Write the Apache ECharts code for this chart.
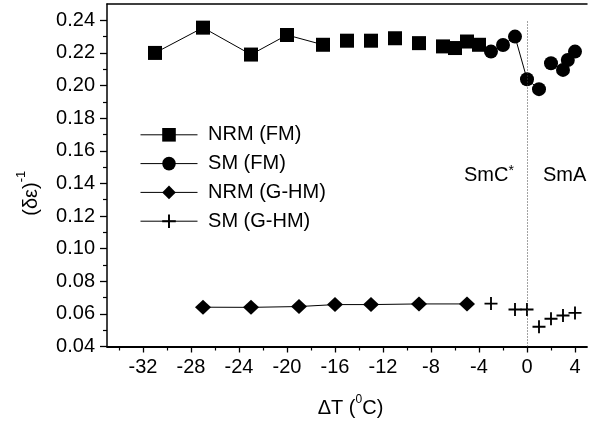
<!DOCTYPE html>
<html>
<head>
<meta charset="utf-8">
<script src="https://cdn.jsdelivr.net/npm/echarts@6/dist/echarts.min.js"></script>
<style>
  html, body { margin: 0; padding: 0; background: #fff; }
  #chart { width: 593px; height: 424px; }
</style>
</head>
<body>
<div id="chart"></div>
<script>
const FONT = '"Liberation Sans", Arial, Helvetica, sans-serif';

// NRM (FM): squares joined by a line far from the transition, loose ones closer to it
const nrmFmJoinedT = [-31, -27, -23, -20, -17];
const nrmFmJoined  = [0.220, 0.2355, 0.219, 0.231, 0.225];
const nrmFmLooseT  = [-15, -13, -11, -9, -7, -6, -5, -4];
const nrmFmLoose   = [0.2275, 0.2275, 0.229, 0.226, 0.224, 0.223, 0.227, 0.225];

// SM (FM): circles through the SmC*-SmA transition
const smFmLowT  = [-3, -2, -1, 0, 1];
const smFmLow   = [0.2208, 0.2249, 0.230, 0.2039, 0.1978];
const smFmHighT = [2, 3, 3.4, 4];
const smFmHigh  = [0.2137, 0.2096, 0.2157, 0.2208];

// NRM (G-HM): diamonds
const nrmGhmT = [-27, -23, -19, -16, -13, -9, -5];
const nrmGhm  = [0.0641, 0.0640, 0.0645, 0.0657, 0.0657, 0.0661, 0.0661];

// SM (G-HM): crosses
const smGhmT = [-3, -1, 0, 1, 2, 3, 4];
const smGhm  = [0.0663, 0.0627, 0.0627, 0.0521, 0.0570, 0.0590, 0.0606];

// axis ticks
const xMajorTicks = [-32, -28, -24, -20, -16, -12, -8, -4, 0, 4];
const xMinorTicks = [-34, -30, -26, -22, -18, -14, -10, -6, -2, 2];
const yMajorTicks = [0.04, 0.06, 0.08, 0.10, 0.12, 0.14, 0.16, 0.18, 0.20, 0.22, 0.24];
const yMinorTicks = [0.05, 0.07, 0.09, 0.11, 0.13, 0.15, 0.17, 0.19, 0.21, 0.23];

const transitionT = 0;
const seriesNames = ['NRM (FM)', 'SM (FM)', 'NRM (G-HM)', 'SM (G-HM)'];

const pts = (t, v) => t.map((x, i) => [x, v[i]]);

const CROSS = 'path://M0,6H14V8H0Z M6,0H8V14H6Z';

function lineSeries(name, data, symbol, size, joined) {
  return {
    name: name,
    type: 'line',
    data: data,
    symbol: symbol,
    symbolSize: size,
    color: '#000',
    itemStyle: { color: '#000' },
    lineStyle: { color: '#000', width: 1, opacity: joined ? 1 : 0 },
    emphasis: { disabled: true },
    silent: true,
    clip: false
  };
}

const xBase = { type: 'value', min: -35, max: 5, splitLine: { show: false } };
const yBase = { type: 'value', min: 0.04, max: 0.25, splitLine: { show: false } };

const option = {
  animation: false,
  backgroundColor: '#fff',
  textStyle: { fontFamily: FONT, color: '#000' },
  grid: { left: 107, right: 6, top: 4, bottom: 77.5 },
  xAxis: [
    Object.assign({}, xBase, {
      position: 'bottom',
      axisLine: { show: true, onZero: false, lineStyle: { color: '#000', width: 1.8 } },
      axisTick: { show: true, customValues: xMajorTicks, length: 6, lineStyle: { color: '#000', width: 1.3 } },
      axisLabel: {
        show: true, customValues: xMajorTicks, margin: 11,
        fontSize: 20, fontFamily: FONT, color: '#000',
        formatter: v => String(v)
      }
    }),
    Object.assign({}, xBase, {
      position: 'bottom',
      axisLine: { show: false, onZero: false },
      axisTick: { show: true, customValues: xMinorTicks, length: 4, lineStyle: { color: '#000', width: 1.2 } },
      axisLabel: { show: false }
    }),
    Object.assign({}, xBase, {
      position: 'top',
      axisLine: { show: true, onZero: false, lineStyle: { color: '#000', width: 1.5 } },
      axisTick: { show: false },
      axisLabel: { show: false }
    })
  ],
  yAxis: [
    Object.assign({}, yBase, {
      position: 'left',
      axisLine: { show: true, onZero: false, lineStyle: { color: '#000', width: 1.5 } },
      axisTick: { show: true, customValues: yMajorTicks, length: 7, lineStyle: { color: '#000', width: 1.3 } },
      axisLabel: {
        show: true, customValues: yMajorTicks, margin: 12,
        fontSize: 20, fontFamily: FONT, color: '#000',
        formatter: v => v.toFixed(2)
      }
    }),
    Object.assign({}, yBase, {
      position: 'left',
      axisLine: { show: false, onZero: false },
      axisTick: { show: true, customValues: yMinorTicks, length: 4, lineStyle: { color: '#000', width: 1.2 } },
      axisLabel: { show: false }
    })
  ],
  legend: {
    show: true,
    data: seriesNames,
    orient: 'vertical',
    left: 140,
    top: 124.8,
    padding: 0,
    itemWidth: 57,
    itemHeight: 17,
    itemGap: 8.8,
    selectedMode: false,
    formatter: name => ' ' + name,
    lineStyle: { color: '#000', width: 1, opacity: 1 },
    textStyle: { fontSize: 20, fontFamily: FONT, color: '#000', lineHeight: 17 }
  },
  series: [
    lineSeries(seriesNames[0], pts(nrmFmJoinedT, nrmFmJoined), 'rect', 14, true),
    lineSeries(seriesNames[0], pts(nrmFmLooseT, nrmFmLoose), 'rect', 14, false),
    lineSeries(seriesNames[1], pts(smFmLowT, smFmLow), 'circle', 14, true),
    lineSeries(seriesNames[1], pts(smFmHighT, smFmHigh), 'circle', 14, true),
    Object.assign(lineSeries(seriesNames[2], pts(nrmGhmT, nrmGhm), 'diamond', [16, 15], true), {
      markLine: {
        silent: true,
        symbol: ['none', 'none'],
        label: { show: false },
        lineStyle: { color: '#444', width: 1, type: [1, 2] },
        data: [[{ coord: [transitionT, 0.04] }, { coord: [transitionT, 0.24] }]]
      }
    }),
    lineSeries(seriesNames[3], pts(smGhmT, smGhm), CROSS, 13, false)
  ]
};

const chart = echarts.init(document.getElementById('chart'), null, { renderer: 'canvas' });
chart.setOption(option);

// phase labels and axis titles, anchored through the axes
const at = (t, v) => chart.convertToPixel({ xAxisIndex: 0, yAxisIndex: 0 }, [t, v]);
const smcPos = at(-5.25, 0.1447);
const smaPos = at(1.33, 0.1447);
const gridRect = chart.getModel().getComponent('grid', 0).coordinateSystem.getRect();

chart.setOption({
  graphic: [
    {
      type: 'text', x: smcPos[0], y: smcPos[1], silent: true,
      style: {
        text: '{a|SmC}{s|*}', align: 'left', verticalAlign: 'middle', fill: '#000',
        rich: {
          a: { fontSize: 20, fontFamily: FONT, lineHeight: 24, fill: '#000' },
          s: { fontSize: 14, fontFamily: FONT, lineHeight: 12, verticalAlign: 'top', fill: '#000' }
        }
      }
    },
    {
      type: 'text', x: smaPos[0], y: smaPos[1], silent: true,
      style: {
        text: 'SmA', align: 'left', verticalAlign: 'middle', fill: '#000',
        fontSize: 20, fontFamily: FONT
      }
    },
    {
      type: 'text', x: gridRect.x + gridRect.width / 2 + 3.5, y: gridRect.y + gridRect.height + 61.5, silent: true,
      style: {
        text: '{a|ΔT (}{s|0}{a|C)}', align: 'center', verticalAlign: 'middle', fill: '#000',
        rich: {
          a: { fontSize: 20, fontFamily: FONT, lineHeight: 28, fill: '#000' },
          s: { fontSize: 12, fontFamily: FONT, lineHeight: 12, verticalAlign: 'top', fill: '#000' }
        }
      }
    },
    {
      type: 'text', x: 31.6, y: gridRect.y + gridRect.height / 2 + 18, rotation: Math.PI / 2, silent: true,
      style: {
        text: '{a|(δε)}{s|-1}', align: 'center', verticalAlign: 'middle', fill: '#000',
        rich: {
          a: { fontSize: 20, fontFamily: FONT, lineHeight: 34, fill: '#000' },
          s: { fontSize: 13, fontFamily: FONT, lineHeight: 10, verticalAlign: 'top', fill: '#000' }
        }
      }
    }
  ]
});
</script>
</body>
</html>
